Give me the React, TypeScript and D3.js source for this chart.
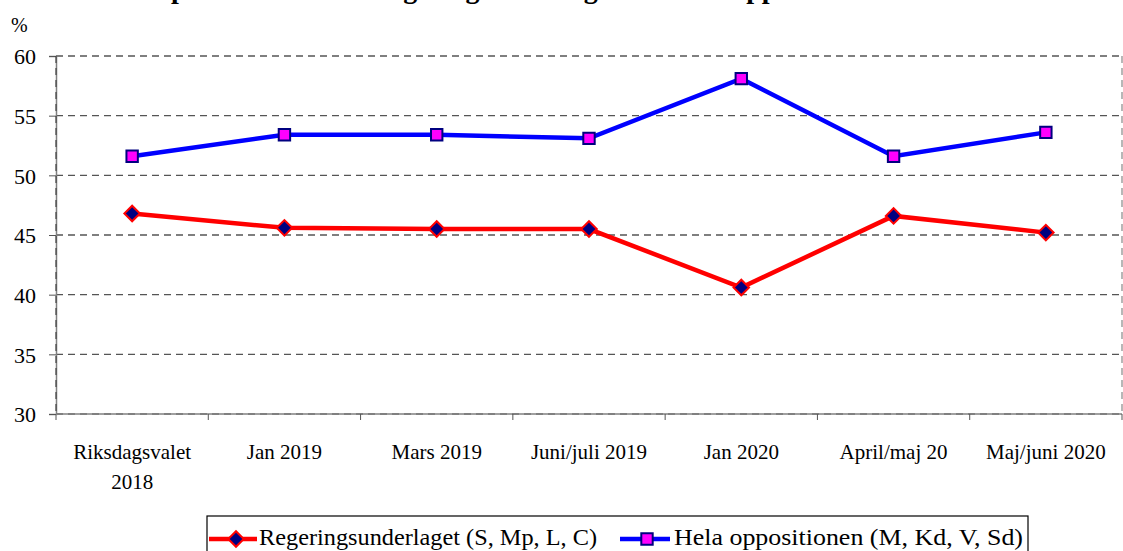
import { useEffect, useRef } from 'react'
import { axisLeft, line, scaleBand, scaleLinear, select, symbol, symbolSquare } from 'd3'

const categories = [
  'Riksdagsvalet 2018',
  'Jan 2019',
  'Mars 2019',
  'Juni/juli 2019',
  'Jan 2020',
  'April/maj 20',
  'Maj/juni 2020',
]
const regering = [46.8, 45.6, 45.5, 45.5, 40.6, 46.6, 45.2]
const opposition = [51.6, 53.4, 53.4, 53.1, 58.1, 51.6, 53.6]
const yTicks = [30, 35, 40, 45, 50, 55, 60]

const width = 1123
const height = 551
const margin = { top: 56, right: 1, bottom: 137, left: 56 }
const font = '"Liberation Serif", "Times New Roman", serif'

export default function App() {
  const xAxisRef = useRef<SVGGElement>(null)
  const yAxisRef = useRef<SVGGElement>(null)

  const innerWidth = width - margin.left - margin.right
  const innerHeight = height - margin.top - margin.bottom

  const x = scaleBand<string>().domain(categories).range([0, innerWidth])
  const y = scaleLinear().domain([30, 60]).range([innerHeight, 0])
  const cx = (i: number) => (x(categories[i]) ?? 0) + x.bandwidth() / 2

  const path = line<number>()
    .x((_, i) => cx(i))
    .y((d) => y(d))

  // diamond = square turned 45deg, closer to the Excel marker than symbolDiamond
  const diamond = symbol().type(symbolSquare).size(120)()
  const square = symbol().type(symbolSquare).size(130)()

  useEffect(() => {
    if (!xAxisRef.current || !yAxisRef.current) return
    // x axis: ticks sit between categories, not under them
    const gx = select(xAxisRef.current)
    gx.selectAll('*').remove()
    gx.append('line')
      .attr('x1', 0)
      .attr('x2', innerWidth)
      .attr('stroke', '#808080')
      .attr('stroke-width', 1.5)
    const bounds = categories.map((c) => x(c) ?? 0).concat([innerWidth])
    gx.selectAll('line.tick')
      .data(bounds)
      .join('line')
      .attr('class', 'tick')
      .attr('x1', (d) => d)
      .attr('x2', (d) => d)
      .attr('y1', 0)
      .attr('y2', 6)
      .attr('stroke', '#555')
    gx.selectAll('text.lbl')
      .data(categories)
      .join('text')
      .attr('class', 'lbl')
      .attr('x', (d) => (x(d) ?? 0) + x.bandwidth() / 2)
      .attr('y', 45)
      .attr('text-anchor', 'middle')
      .attr('font-family', font)
      .attr('font-size', 21)
      .each(function (d) {
        const t = select(this)
        const parts = d === 'Riksdagsvalet 2018' ? ['Riksdagsvalet', '2018'] : [d]
        parts.forEach((p, i) => {
          t.append('tspan')
            .attr('x', (x(d) ?? 0) + x.bandwidth() / 2)
            .attr('dy', i === 0 ? 0 : 30)
            .text(p)
        })
      })

    const gy = select(yAxisRef.current)
    gy.call(axisLeft(y).tickValues(yTicks).tickSize(7).tickPadding(13))
    gy.attr('font-family', font).attr('font-size', 22)
    gy.select('.domain').attr('stroke', '#808080').attr('stroke-width', 1.5)
    gy.selectAll('.tick line').attr('stroke', '#555')
    gy.selectAll('.tick text').attr('fill', '#000').attr('dy', '0.35em')
  }, [x, y, innerWidth])

  return (
    <svg
      width={width}
      height={height}
      style={{ position: 'absolute', left: 0, top: 0, background: '#fff' }}
    >
      <rect width={width} height={height} fill="#fff" />
      <text
        x={517}
        y={-2}
        textAnchor="middle"
        fontFamily={font}
        fontSize={28}
        fontWeight="bold"
      >
        Opinionsstödet för regeringsunderlaget och hela oppositionen
      </text>
      <text x={11} y={32} fontFamily={font} fontSize={20}>
        %
      </text>
      <g transform={`translate(${margin.left},${margin.top})`}>
        {yTicks.map((t) => (
          <line
            key={t}
            x1={0}
            x2={innerWidth}
            y1={y(t)}
            y2={y(t)}
            stroke="#555"
            strokeWidth={1.3}
            strokeDasharray="7,5"
          />
        ))}
        <line x1={innerWidth} x2={innerWidth} y1={0} y2={innerHeight} stroke="#888" strokeWidth={1.2} strokeDasharray="7,5" />
        <g ref={xAxisRef} transform={`translate(0,${innerHeight})`} />
        <g ref={yAxisRef} />
        <line x1={0} x2={0} y1={0} y2={innerHeight} stroke="#444" strokeWidth={1.2} strokeDasharray="7,5" />

        <path d={path(regering) ?? ''} fill="none" stroke="#ff0000" strokeWidth={4.5} />
        <path d={path(opposition) ?? ''} fill="none" stroke="#0000ff" strokeWidth={4.5} />
        {regering.map((v, i) => (
          <path
            key={`r${i}`}
            d={diamond ?? ''}
            transform={`translate(${cx(i)},${y(v)}) rotate(45)`}
            fill="#000080"
            stroke="#ff0000"
            strokeWidth={2}
          />
        ))}
        {opposition.map((v, i) => (
          <path
            key={`o${i}`}
            d={square ?? ''}
            transform={`translate(${cx(i)},${y(v)})`}
            fill="#ff00ff"
            stroke="#000080"
            strokeWidth={2}
          />
        ))}
      </g>

      <g transform="translate(207,516)">
        <rect x={0} y={0} width={821} height={40} fill="#fff" stroke="#000" strokeWidth={1.2} />
        <line x1={2} x2={50} y1={23} y2={23} stroke="#ff0000" strokeWidth={4.5} />
        <path d={diamond ?? ''} transform="translate(29,23) rotate(45)" fill="#000080" stroke="#ff0000" strokeWidth={2} />
        <text x={52} y={29} fontFamily={font} fontSize={23} textLength={338} lengthAdjust="spacingAndGlyphs">
          {'Regeringsunderlaget (S, Mp, L, C)'}
        </text>
        <line x1={413} x2={463} y1={23} y2={23} stroke="#0000ff" strokeWidth={4.5} />
        <path d={square ?? ''} transform="translate(440,23)" fill="#ff00ff" stroke="#000080" strokeWidth={2} />
        <text x={467} y={29} fontFamily={font} fontSize={23} textLength={349} lengthAdjust="spacingAndGlyphs">
          {'Hela oppositionen (M, Kd, V, Sd)'}
        </text>
      </g>
    </svg>
  )
}
